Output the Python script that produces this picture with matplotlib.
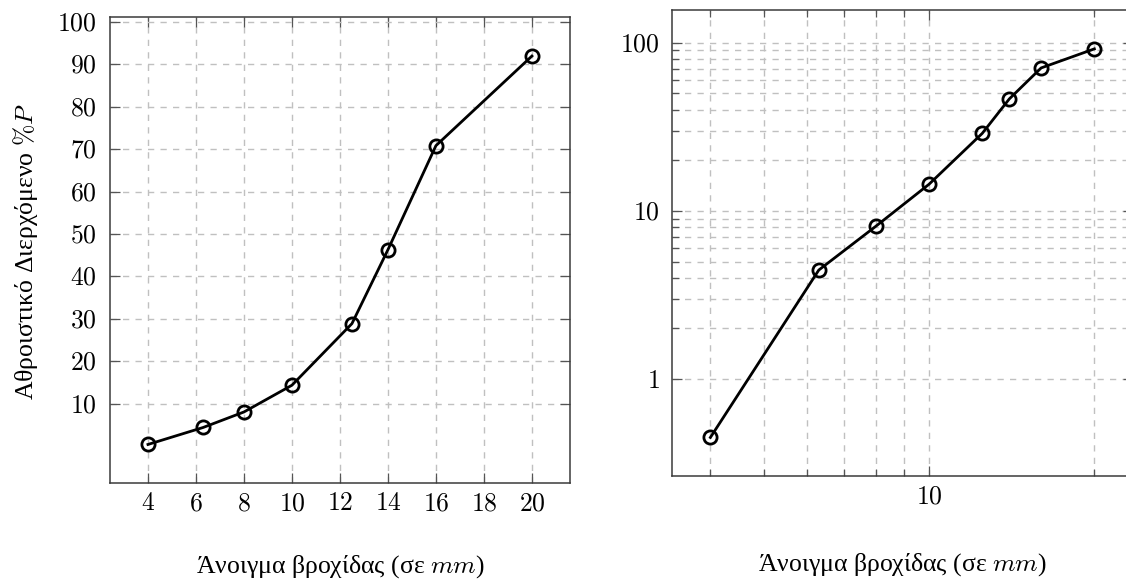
import numpy as np
import matplotlib
matplotlib.use("Agg")
import matplotlib.pyplot as plt
from matplotlib.ticker import FixedLocator, NullFormatter, FuncFormatter

plt.rcParams['mathtext.fontset'] = 'cm'
plt.rcParams['font.family'] = ['Liberation Serif', 'DejaVu Serif']

# sieve data (opening in mm, cumulative passing %)
opening = [4, 6.3, 8, 10, 12.5, 14, 16, 20]
passing = [0.45, 4.45, 8.1, 14.4, 28.9, 46.3, 70.8, 91.9]

lin_xticks = [4, 6, 8, 10, 12, 14, 16, 18, 20]
lin_yticks = [10, 20, 30, 40, 50, 60, 70, 80, 90, 100]
log_xmajor = [10]
log_xminor = [4, 5, 6, 7, 8, 9, 20, 30]
log_ymajor = [1, 10, 100]
log_yminor = [2, 3, 4, 5, 6, 7, 8, 9, 20, 30, 40, 50, 60, 70, 80, 90]

xlabel = "Άνοιγμα βροχίδας (σε $mm$)"
ylabel = "Αθροιστικό Διερχόμενο $\\%P$"

FS = 18.5
grid_kw = dict(linestyle=(0, (4.5, 4.5)), color='#c0c0c0', linewidth=1.0)
line_kw = dict(color='black', linewidth=2.0, marker='o', markersize=9.5,
               markerfacecolor='none', markeredgewidth=2.0, markeredgecolor='black')


def enlarge(lo, hi, f=0.1):
    d = hi - lo
    return lo - f * d, hi + f * d


def mathfmt(v, pos):
    return '$%g$' % v


fig = plt.figure(figsize=(11.26, 5.83), dpi=100)

# ---- linear axes
ax1 = fig.add_axes([0.0973, 0.171, 0.4092, 0.7995])
ax1.plot(opening, passing, **line_kw)
ax1.set_xlim(*enlarge(min(opening), max(opening)))
ax1.set_ylim(*enlarge(min(passing), max(passing)))
ax1.set_xticks(lin_xticks)
ax1.set_yticks(lin_yticks)
ax1.xaxis.set_major_formatter(FuncFormatter(mathfmt))
ax1.yaxis.set_major_formatter(FuncFormatter(mathfmt))
ax1.grid(True, which='major', **grid_kw)

# ---- log-log axes
ax2 = fig.add_axes([0.5968, 0.183, 0.4092, 0.7998])
ax2.plot(opening, passing, **line_kw)
ax2.set_xscale('log')
ax2.set_yscale('log')
lx = enlarge(np.log10(min(opening)), np.log10(max(opening)))
ly = enlarge(np.log10(min(passing)), np.log10(max(passing)))
ax2.set_xlim(10 ** lx[0], 10 ** lx[1])
ax2.set_ylim(10 ** ly[0], 10 ** ly[1])
ax2.xaxis.set_major_locator(FixedLocator(log_xmajor))
ax2.xaxis.set_minor_locator(FixedLocator(log_xminor))
ax2.yaxis.set_major_locator(FixedLocator(log_ymajor))
ax2.yaxis.set_minor_locator(FixedLocator(log_yminor))
ax2.xaxis.set_major_formatter(FuncFormatter(mathfmt))
ax2.yaxis.set_major_formatter(FuncFormatter(mathfmt))
ax2.xaxis.set_minor_formatter(NullFormatter())
ax2.yaxis.set_minor_formatter(NullFormatter())
ax2.grid(True, which='both', **grid_kw)

for ax in (ax1, ax2):
    for s in ax.spines.values():
        s.set_color('#3a3a3a')
        s.set_linewidth(1.1)
    ax.tick_params(which='both', direction='in', top=True, right=True,
                   color='#555555', width=0.9, labelsize=FS)
    ax.tick_params(which='major', length=7)
    ax.tick_params(which='minor', length=5)
    ax.tick_params(axis='y', pad=9)
    ax.tick_params(axis='x', pad=7)

fig.text(0.302, 0.029, xlabel, ha='center', va='center', fontsize=FS)
fig.text(0.801, 0.031, xlabel, ha='center', va='center', fontsize=FS)
fig.text(0.023, 0.568, ylabel, ha='center', va='center', rotation=90, fontsize=FS)

fig.savefig("out.png", dpi=100)
